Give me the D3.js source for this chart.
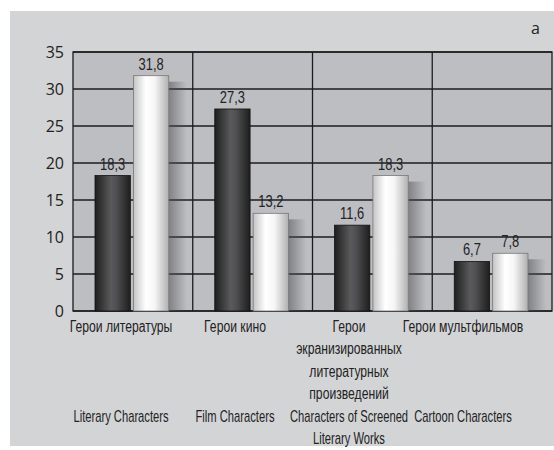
<!DOCTYPE html>
<html><head><meta charset="utf-8">
<script src="https://cdn.jsdelivr.net/npm/d3@7"></script>
<style>
body{margin:0;background:#fff;}
svg{display:block;}
.cond{font-family:"Liberation Sans","Arial",sans-serif;}
</style></head>
<body><svg id="c" width="554" height="450"></svg>
<script>
const categoriesRu = [["Герои литературы"],["Герои кино"],["Герои","экранизированных","литературных","произведений"],["Герои мультфильмов"]];
const categoriesEn = [["Literary Characters"],["Film Characters"],["Characters of Screened","Literary Works"],["Cartoon Characters"]];
const categories = ["lit","film","screen","cartoon"];
const seriesDark = [18.3, 27.3, 11.6, 6.7];
const seriesLight = [31.8, 13.2, 18.3, 7.8];
const yTicks = [0,5,10,15,20,25,30,35];
const panelLabel = "a";

const svg = d3.select("#c");
const defs = svg.append("defs");
const gd = defs.append("linearGradient").attr("id","gDark").attr("x1","0").attr("x2","1");
[[0,"#1e1e1e"],[0.45,"#5a5a5c"],[0.6,"#505052"],[1,"#1e1e1e"]].forEach(s=>gd.append("stop").attr("offset",s[0]).attr("stop-color",s[1]));
const gl = defs.append("linearGradient").attr("id","gLight").attr("x1","0").attr("x2","1");
[[0,"#c4c4c4"],[0.35,"#ffffff"],[0.6,"#f6f6f6"],[1,"#b0b0b0"]].forEach(s=>gl.append("stop").attr("offset",s[0]).attr("stop-color",s[1]));
const gs = defs.append("linearGradient").attr("id","gShadow").attr("x1","0").attr("x2","1");
[[0,"rgba(80,80,84,0.55)"],[1,"rgba(80,80,84,0)"]].forEach(s=>gs.append("stop").attr("offset",s[0]).attr("stop-color",s[1]));

const SX = 0.76, SXE = 0.70;

// outer panel
svg.append("rect").attr("x",10).attr("y",11).attr("width",544).attr("height",435).attr("fill","#d3d4d6");

const pL=73, pR=552, pT=52, pB=311;
const y = d3.scaleLinear().domain([0,35]).range([pB,pT]);
const x = d3.scaleBand().domain(categories).range([pL,pR]).paddingInner(0).paddingOuter(0);
const inner = d3.scaleBand().domain(["d","l"]).range([22, x.bandwidth()-24]).paddingInner(0.08);
const labelX = d3.scalePoint().domain(categories).range([121,463]);

svg.append("rect").attr("x",pL).attr("y",pT).attr("width",pR-pL).attr("height",pB-pT).attr("fill","#bdbec2");

// gridlines
svg.append("g").selectAll("line").data(yTicks).join("line")
  .attr("x1",pL).attr("x2",pR).attr("y1",d=>y(d)).attr("y2",d=>y(d))
  .attr("stroke","#1c1c1c").attr("stroke-width",1.3);
// vertical dividers
svg.append("g").selectAll("line").data(categories.slice(1)).join("line")
  .attr("x1",d=>x(d)).attr("x2",d=>x(d)).attr("y1",pT).attr("y2",pB)
  .attr("stroke","#1c1c1c").attr("stroke-width",1.3);
// frame
svg.append("rect").attr("x",pL).attr("y",pT).attr("width",pR-pL).attr("height",pB-pT)
  .attr("fill","none").attr("stroke","#1c1c1c").attr("stroke-width",1.3);

const data = categories.map((c,i)=>({c, d:seriesDark[i], l:seriesLight[i]}));
const g = svg.append("g");
// shadows
g.selectAll("rect.sh").data(data).join("rect").attr("class","sh")
  .attr("x",d=>x(d.c)+inner("l")+inner.bandwidth())
  .attr("y",d=>y(d.l)+6).attr("width",18).attr("height",d=>pB-y(d.l)-6)
  .attr("fill","url(#gShadow)");
// dark bars
g.selectAll("rect.dk").data(data).join("rect").attr("class","dk")
  .attr("x",d=>x(d.c)+inner("d")).attr("width",inner.bandwidth())
  .attr("y",d=>y(d.d)).attr("height",d=>pB-y(d.d))
  .attr("fill","url(#gDark)").attr("stroke","#111").attr("stroke-width",0.8);
g.selectAll("rect.lt").data(data).join("rect").attr("class","lt")
  .attr("x",d=>x(d.c)+inner("l")).attr("width",inner.bandwidth())
  .attr("y",d=>y(d.l)).attr("height",d=>pB-y(d.l))
  .attr("fill","url(#gLight)").attr("stroke","#777").attr("stroke-width",0.8);

const fmt = v=>String(v).replace(".",",");
g.selectAll("text.vd").data(data).join("text").attr("class","cond")
  .attr("transform",d=>`translate(${x(d.c)+inner("d")+inner.bandwidth()/2},${y(d.d)-6}) scale(${SX},1)`)
  .attr("text-anchor","middle").attr("font-size",17).attr("fill","#222").text(d=>fmt(d.d));
g.selectAll("text.vl").data(data).join("text").attr("class","cond")
  .attr("transform",d=>`translate(${x(d.c)+inner("l")+inner.bandwidth()/2},${y(d.l)-6}) scale(${SX},1)`)
  .attr("text-anchor","middle").attr("font-size",17).attr("fill","#222").text(d=>fmt(d.l));

// y axis labels
svg.append("g").selectAll("text").data(yTicks).join("text")
  .attr("x",64).attr("y",d=>y(d)).attr("dy","0.35em").attr("text-anchor","end")
  .attr("font-family","'Open Sans',sans-serif").attr("font-size",16).attr("fill","#222").text(d=>d);

// category labels
const lab = svg.append("g");
categories.forEach((c,i)=>{
  const t = lab.append("text").attr("class","cond").attr("text-anchor","middle").attr("font-size",16).attr("fill","#222")
    .attr("transform",`translate(${labelX(c)},0) scale(${SX},1)`);
  categoriesRu[i].forEach((line,j)=>t.append("tspan").attr("x",0).attr("y",332+j*22.5).text(line));
  const e = lab.append("text").attr("class","cond").attr("text-anchor","middle").attr("font-size",16).attr("fill","#222")
    .attr("transform",`translate(${labelX(c)},0) scale(${SXE},1)`);
  categoriesEn[i].forEach((line,j)=>e.append("tspan").attr("x",0).attr("y",422+j*22.5).text(line));
});

svg.append("text").attr("x",540).attr("y",34).attr("text-anchor","end")
  .attr("font-family","'Open Sans',sans-serif").attr("font-size",16).attr("fill","#222").text(panelLabel);
</script></body></html>
